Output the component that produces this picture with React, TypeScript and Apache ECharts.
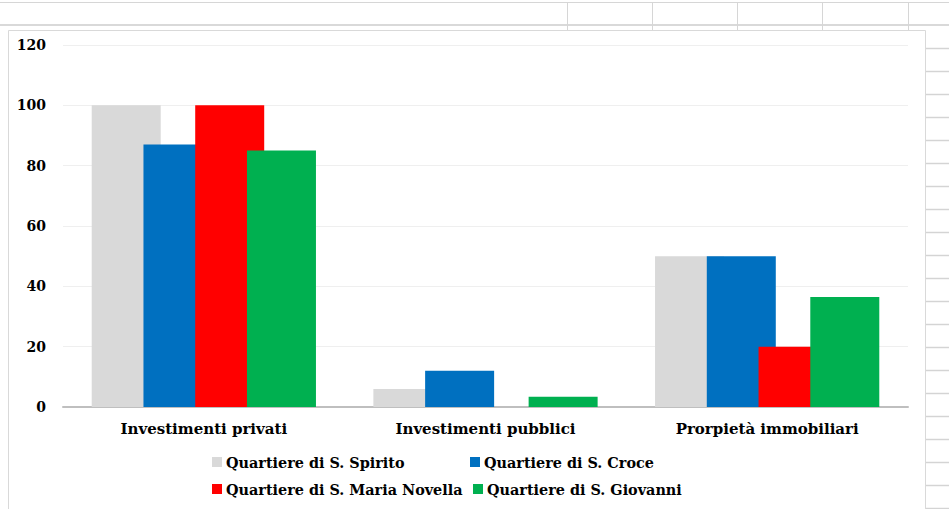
import React, { useEffect, useRef } from "react";
import * as echarts from "echarts";

const categories = ["Investimenti privati", "Investimenti pubblici", "Prorpietà immobiliari"];
const seriesNames = [
  "Quartiere di S. Spirito",
  "Quartiere di S. Croce",
  "Quartiere di S. Maria Novella",
  "Quartiere di S. Giovanni",
];
const spirito = [100, 6, 50];
const croce = [87, 12, 50];
const mariaNovella = [100, 0, 20];
const giovanni = [85, 3.4, 36.5];
const yTicks = { min: 0, max: 120, interval: 20 };

const colors = ["#d9d9d9", "#0070c0", "#ff0000", "#00b050"];
const FONT = "'DejaVu Serif', serif";

export default function App() {
  const ref = useRef<HTMLDivElement>(null);
  useEffect(() => {
    if (!ref.current) return;
    const chart = echarts.init(ref.current, undefined, { renderer: "svg" });
    const values = [spirito, croce, mariaNovella, giovanni];
    const lineStyle = { stroke: "#d6d6d6", lineWidth: 1 };
    const bg: any[] = [];
    bg.push({ type: "line", z: -10, shape: { x1: 0, y1: 2.5, x2: 949, y2: 2.5 }, style: lineStyle });
    bg.push({ type: "line", z: -10, shape: { x1: 0, y1: 25, x2: 949, y2: 25 }, style: { stroke: "#d9d9d9", lineWidth: 2 } });
    [567, 652, 737, 822, 908].forEach((x) => {
      bg.push({ type: "line", z: -10, shape: { x1: x + 0.5, y1: 2, x2: x + 0.5, y2: 30 }, style: lineStyle });
    });
    for (let y = 48; y < 509; y += 23) {
      bg.push({ type: "line", z: -10, shape: { x1: 926, y1: y + 0.5, x2: 949, y2: y + 0.5 }, style: { stroke: "#d4d4d4", lineWidth: 1.5 } });
    }
    bg.push({
      type: "rect",
      z: -9,
      shape: { x: 8.5, y: 30.5, width: 917, height: 490 },
      style: { fill: "#ffffff", stroke: "#d9d9d9", lineWidth: 1 },
    });

    const legendPos = [
      { left: 212, top: 455 },
      { left: 470, top: 455 },
      { left: 212, top: 482 },
      { left: 473, top: 482 },
    ];

    const txt = { fontFamily: FONT, fontWeight: "bold", fontSize: 14, color: "#000" };

    chart.setOption({
      animation: false,
      backgroundColor: "#ffffff",
      graphic: bg,
      grid: { left: 63, right: 41, top: 45, bottom: 102, containLabel: false },
      legend: seriesNames.map((n, i) => ({
        data: [n],
        left: legendPos[i].left,
        top: legendPos[i].top,
        itemWidth: 10,
        itemHeight: 10,
        icon: "rect",
        itemGap: 0,
        padding: 0,
        textStyle: { ...txt, fontSize: 14.4, padding: [0, 0, 0, -1] },
      })),
      xAxis: {
        type: "category",
        data: categories,
        axisLine: { lineStyle: { color: "#bfbfbf", width: 2 } },
        axisTick: { show: false },
        axisLabel: { ...txt, fontSize: 15, margin: 14 },
      },
      yAxis: {
        type: "value",
        min: yTicks.min,
        max: yTicks.max,
        interval: yTicks.interval,
        axisLine: { show: false },
        axisTick: { show: false },
        splitLine: { lineStyle: { color: "#efefef", width: 1 } },
        axisLabel: { ...txt, margin: 17 },
      },
      series: seriesNames.map((n, i) => ({
        name: n,
        type: "bar",
        data: values[i],
        barWidth: 69,
        barGap: "-25%",
        itemStyle: { color: colors[i] },
      })),
    });
    return () => chart.dispose();
  }, []);
  return <div ref={ref} style={{ position: "fixed", left: 0, top: 0, width: 949, height: 509 }} />;
}
